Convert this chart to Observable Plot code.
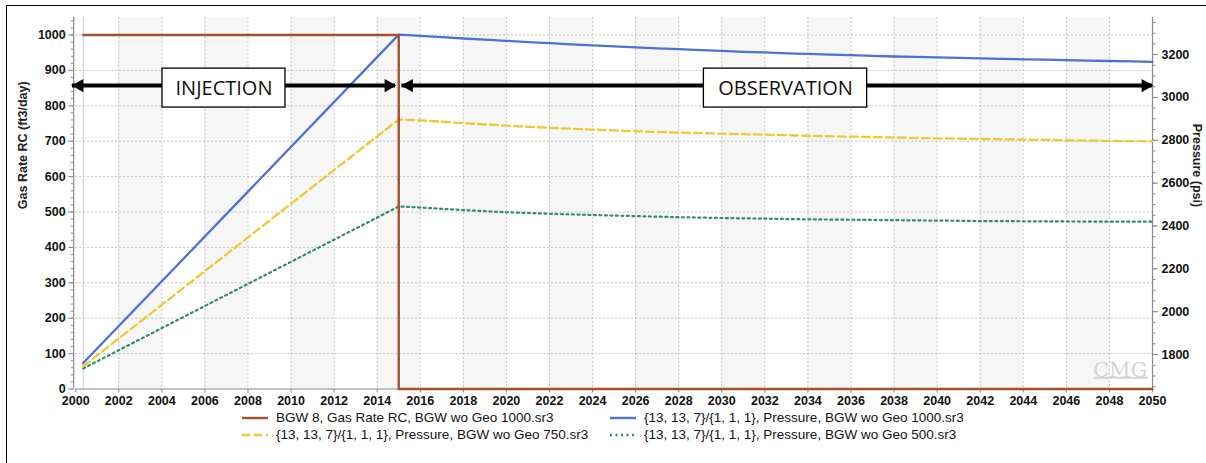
<!DOCTYPE html>
<html>
<head>
<meta charset="utf-8">
<script src="https://cdn.jsdelivr.net/npm/d3@7"></script>
<script src="https://cdn.jsdelivr.net/npm/@observablehq/plot@0.6"></script>
<style>
  body { margin: 0; background: #fff; font-family: "Liberation Sans", Arial, sans-serif; }
  #wrap { position: relative; width: 1206px; height: 463px; overflow: hidden; background: #fff; }
  #frame { position: absolute; left: 6px; top: 5px; width: 1220px; height: 480px; border: 1.5px solid #000; box-sizing: border-box; pointer-events: none; }
  #chart { position: absolute; left: 0; top: 0; }
  #legend { position: absolute; left: 0; top: 0; width: 1206px; height: 463px; font-size: 13.5px; color: #111; pointer-events: none; }
  .item { position: absolute; display: flex; align-items: center; white-space: nowrap; height: 15px; }
  .item svg { margin-right: 8px; }
</style>
</head>
<body>
<div id="wrap">
  <div id="chart"></div>
  <div id="legend"></div>
  <div id="frame"></div>
</div>
<script>
// Simulation time axis (years)
const injStart = 2000.35;
const injEnd = 2015;

// Gas injection rate (ft3/day): constant during injection, shut in afterwards
const rateYears = [injStart, injEnd, 2050];
const rateValues = [1000, 0, 0];

// Pressure (psi) of block {13,13,7} for three injection-rate cases
const p1000Years = [injStart, 2015, 2016, 2017, 2018, 2019, 2020, 2021, 2022, 2023, 2024, 2025, 2026, 2027, 2028, 2029, 2030, 2031, 2032, 2033, 2034, 2035, 2036, 2037, 2038, 2039, 2040, 2041, 2042, 2043, 2044, 2045, 2046, 2047, 2048, 2049, 2050];
const p1000Values = [1760, 3293, 3287, 3281, 3275, 3270, 3264, 3258, 3253, 3248, 3243, 3238, 3234, 3229, 3225, 3221, 3217, 3213, 3210, 3206, 3203, 3200, 3197, 3194, 3191, 3189, 3187, 3185, 3182, 3180, 3178, 3176, 3174, 3172, 3170, 3168, 3166];

const p750Years = [injStart, 2015, 2016, 2018, 2020, 2022, 2024, 2026, 2028, 2030, 2032, 2034, 2036, 2038, 2040, 2042, 2044, 2046, 2048, 2050];
const p750Values = [1745, 2897, 2893, 2880, 2868, 2858, 2850, 2842, 2836, 2831, 2826, 2821, 2817, 2813, 2809, 2806, 2803, 2800, 2797, 2795];

const p500Years = [injStart, 2015, 2016, 2018, 2020, 2022, 2024, 2026, 2028, 2030, 2032, 2034, 2036, 2038, 2040, 2042, 2044, 2046, 2048, 2050];
const p500Values = [1735, 2491, 2486, 2474, 2464, 2457, 2451, 2446, 2441, 2437, 2434, 2431, 2429, 2427, 2425, 2423, 2422, 2421, 2420, 2420];

// Axis ticks
const xTicks = d3.range(2000, 2051, 2);
const rateTicks = d3.range(0, 1001, 100);
const rateMinor = d3.range(0, 1041, 20);
const pressureTicks = d3.range(1800, 3201, 200);
const pressureMinor = d3.range(1650, 3376, 50);

// Phase annotations
const phases = ["INJECTION", "OBSERVATION"];
const phaseArrowFrom = [1999.85, 2015.15];
const phaseArrowTo = [2014.85, 2050];
const phaseBoxFrom = [2004.03, 2029.17];
const phaseBoxTo = [2009.74, 2036.75];
const phaseLevel = 857;
const phaseBoxLow = 795;
const phaseBoxHigh = 905;

// Series legend
const seriesNames = [
  "BGW 8, Gas Rate RC, BGW wo Geo 1000.sr3",
  "{13, 13, 7}/{1, 1, 1}, Pressure, BGW wo Geo 1000.sr3",
  "{13, 13, 7}/{1, 1, 1}, Pressure, BGW wo Geo 750.sr3",
  "{13, 13, 7}/{1, 1, 1}, Pressure, BGW wo Geo 500.sr3"
];
const seriesColors = ["#a3522a", "#4a72d9", "#f0c832", "#2f8f63"];
const seriesDash = [null, null, "8,4", "2,3.5"];

// Secondary (pressure) axis is mapped onto the rate scale
const rateMax = 1050;
const pLow = 1639, pHigh = 3374;
const toRate = (p) => (p - pLow) / (pHigh - pLow) * rateMax;
const toPressure = (r) => pLow + r / rateMax * (pHigh - pLow);

const rateData = rateYears.map((x, i) => ({x, y: rateValues[i]}));
const series = (xs, vs) => xs.map((x, i) => ({x, y: toRate(vs[i])}));
const p1000 = series(p1000Years, p1000Values);
const p750 = series(p750Years, p750Values);
const p500 = series(p500Years, p500Values);

const bandStarts = d3.range(2002, 2050, 4);
const phaseData = phases.map((label, i) => ({
  label, a: phaseArrowFrom[i], b: phaseArrowTo[i], bx1: phaseBoxFrom[i], bx2: phaseBoxTo[i],
  mid: (phaseBoxFrom[i] + phaseBoxTo[i]) / 2
}));

const axisColor = "#8a8a8a";
const gridStyle = {stroke: "#b4b4b4", strokeOpacity: 1, strokeDasharray: "2,2", strokeWidth: 0.8};
const font = "Liberation Sans, Arial, sans-serif";

const chart = Plot.plot({
  width: 1206,
  height: 410,
  marginLeft: 75.2,
  marginRight: 54,
  marginTop: 16.8,
  marginBottom: 21.5,
  style: {fontFamily: font, fontSize: "12.5px", color: "#111", background: "transparent", overflow: "visible"},
  x: {domain: [2000, 2050], axis: null},
  y: {domain: [0, rateMax], axis: null},
  marks: [
    // shaded alternate columns
    Plot.rect(bandStarts, {x1: d => d, x2: d => d + 2, y1: 0, y2: rateMax, fill: "#f6f6f6"}),
    Plot.gridX(xTicks.filter(d => d > 2000 && d < 2050), gridStyle),
    Plot.gridY(rateTicks.filter(d => d > 0), gridStyle),
    Plot.ruleX([injStart], {stroke: "#cccccc", strokeWidth: 1}),
    // axis lines
    Plot.ruleX([2000], {dx: -2, stroke: axisColor, strokeWidth: 1.2}),
    Plot.ruleX([2050], {stroke: axisColor, strokeWidth: 1.2}),
    Plot.ruleY([0], {stroke: axisColor, strokeWidth: 1.2}),
    // bottom axis
    Plot.axisX({ticks: xTicks, tickFormat: d => String(d), tickSize: 4, tickPadding: 3, stroke: axisColor, fontWeight: "bold", fill: "#111", label: null}),
    // left axis
    Plot.axisY({ticks: rateMinor, tickSize: 2.5, tickFormat: () => "", stroke: axisColor, label: null, dx: -2}),
    Plot.axisY({ticks: rateTicks, tickSize: 5, tickPadding: 3, tickFormat: d => String(d), stroke: axisColor, fontWeight: "bold", fill: "#111", label: null, dx: -2}),
    // right axis (pressure)
    Plot.axisY({anchor: "right", ticks: pressureMinor.map(toRate).filter(d => d >= 0 && d <= rateMax), tickSize: 2.5, tickFormat: () => "", stroke: axisColor, label: null}),
    Plot.axisY({anchor: "right", ticks: pressureTicks.map(toRate), tickSize: 5, tickPadding: 4, tickFormat: d => String(Math.round(toPressure(d))), stroke: axisColor, fontWeight: "bold", fill: "#111", label: null}),
    // axis titles
    Plot.text(["Gas Rate RC (ft3/day)"], {frameAnchor: "left", rotate: -90, dx: -53, dy: 6, fontWeight: "bold", fontSize: 12.5, fill: "#222"}),
    Plot.text(["Pressure (psi)"], {frameAnchor: "right", rotate: 90, dx: 44, dy: 4, fontWeight: "bold", fontSize: 12.5, fill: "#222"}),
    // watermark
    Plot.text(["CMG"], {x: 2048.5, y: 52, fill: "#d4d4d4", fontSize: 21, fontFamily: "DejaVu Serif, serif", textAnchor: "middle"}),
    Plot.ruleY([32], {x1: 2047.3, x2: 2049.8, stroke: "#d4d4d4", strokeWidth: 2}),
    // series
    Plot.line(p500, {x: "x", y: "y", stroke: seriesColors[3], strokeWidth: 2.2, strokeDasharray: seriesDash[3], strokeLinecap: "round"}),
    Plot.line(p750, {x: "x", y: "y", stroke: seriesColors[2], strokeWidth: 2.3, strokeDasharray: seriesDash[2]}),
    Plot.line(p1000, {x: "x", y: "y", stroke: seriesColors[1], strokeWidth: 2.3}),
    Plot.line(rateData, {x: "x", y: "y", curve: "step-after", stroke: seriesColors[0], strokeWidth: 2.4}),
    // phase arrows and labels
    Plot.ruleY(phaseData, {x1: d => d.a, x2: d => d.b, y: phaseLevel, stroke: "#000", strokeWidth: 4}),
    Plot.dot(phaseData, {x: "a", y: phaseLevel, symbol: "triangle", r: 5, fill: "#000", rotate: -90, dx: 7}),
    Plot.dot(phaseData, {x: "b", y: phaseLevel, symbol: "triangle", r: 5, fill: "#000", rotate: 90, dx: -7}),
    Plot.rect(phaseData, {x1: "bx1", x2: "bx2", y1: phaseBoxLow, y2: phaseBoxHigh, fill: "#fff", stroke: "#000", strokeWidth: 1.3}),
    Plot.text(phaseData, {x: "mid", y: (phaseBoxLow + phaseBoxHigh) / 2, text: "label", fontSize: 20, fontFamily: "Open Sans, sans-serif", fill: "#111"})
  ]
});
document.getElementById("chart").append(chart);

// legend below the plot
const legend = document.getElementById("legend");
const legendPos = [[242, 410], [610, 410], [242, 427], [610, 427]];
seriesNames.forEach((name, s) => {
  const item = document.createElement("div");
  item.className = "item";
  item.style.left = legendPos[s][0] + "px";
  item.style.top = legendPos[s][1] + "px";
  const dash = seriesDash[s] ? `stroke-dasharray="${seriesDash[s]}"` : "";
  item.innerHTML = `<svg width="26" height="6"><line x1="0" x2="26" y1="3" y2="3" stroke="${seriesColors[s]}" stroke-width="2.4" ${dash}/></svg><span>${name}</span>`;
  legend.append(item);
});
</script>
</body>
</html>
